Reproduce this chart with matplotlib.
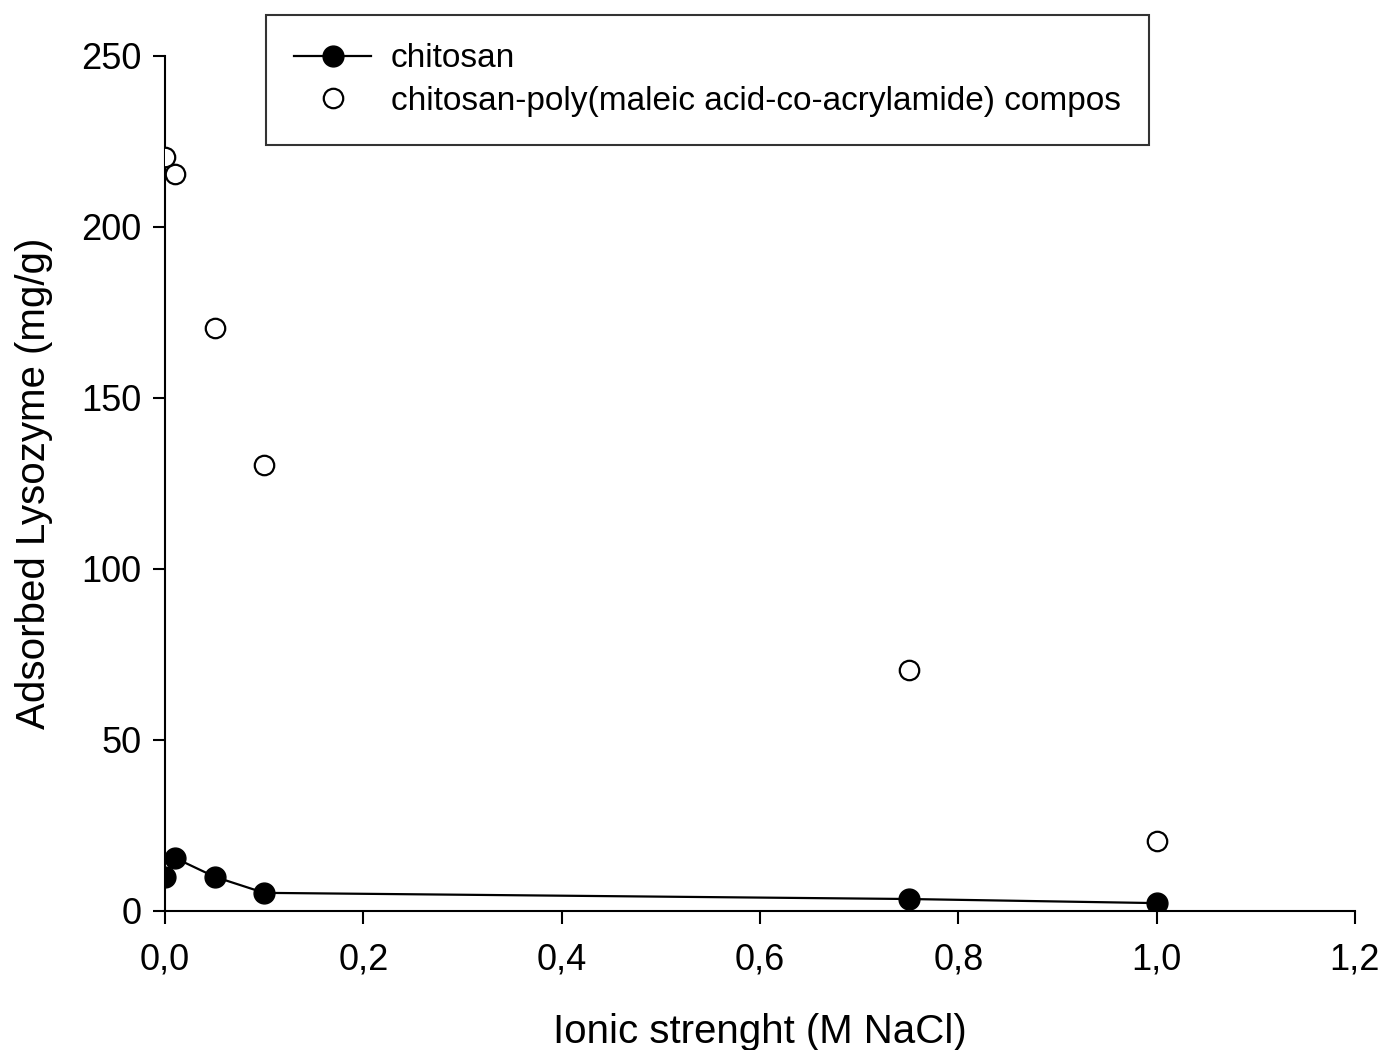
import numpy as np
import matplotlib.pyplot as plt
from matplotlib.ticker import FuncFormatter

# ionic strength (M NaCl)
nacl = [0.0, 0.01, 0.05, 0.1, 0.75, 1.0]
chitosan = [10, 15.5, 10, 5.3, 3.5, 2.3]
composite = [220.5, 215.5, 170.5, 130.5, 70.5, 20.5]

plt.rcParams['font.family'] = ['Liberation Sans', 'DejaVu Sans']

fig = plt.figure(figsize=(13.94, 10.5), dpi=100)
ax = fig.add_axes([0.1184, 0.1324, 0.8536, 0.8143])

ax.plot(nacl, chitosan, color='black', linewidth=1.6, marker='o', markersize=15,
        label='chitosan', zorder=3)
ax.plot(nacl, composite, linestyle='none', marker='o', markersize=14,
        markerfacecolor='white', markeredgecolor='black', markeredgewidth=1.6,
        label='chitosan-poly(maleic acid-co-acrylamide) compos', zorder=3)

ax.set_xlim(0, 1.2)
ax.set_ylim(0, 250)
ax.set_xticks(np.arange(0, 1.21, 0.2))
ax.set_yticks(np.arange(0, 251, 50))
ax.xaxis.set_major_formatter(FuncFormatter(lambda v, p: ('%.1f' % v).replace('.', ',')))

for s in ['top', 'right']:
    ax.spines[s].set_visible(False)
for s in ['left', 'bottom']:
    ax.spines[s].set_linewidth(1.5)
ax.tick_params(axis='both', direction='out', length=9, width=1.5, labelsize=26)
ax.tick_params(axis='x', pad=14)
ax.tick_params(axis='y', pad=8)

ax.set_xlabel('Ionic strenght (M NaCl)', fontsize=29, labelpad=25)
ax.set_ylabel('Adsorbed Lysozyme (mg/g)', fontsize=29, labelpad=20)

leg = ax.legend(loc='upper left', bbox_to_anchor=(0.0849, 1.048), borderaxespad=0,
                fontsize=24, frameon=True, fancybox=False, edgecolor='black',
                handlelength=2.3, handletextpad=0.6, borderpad=0.85, labelspacing=0.35)
leg.get_frame().set_linewidth(1.5)
leg.set_clip_on(False)

plt.savefig('out.png', dpi=100)
